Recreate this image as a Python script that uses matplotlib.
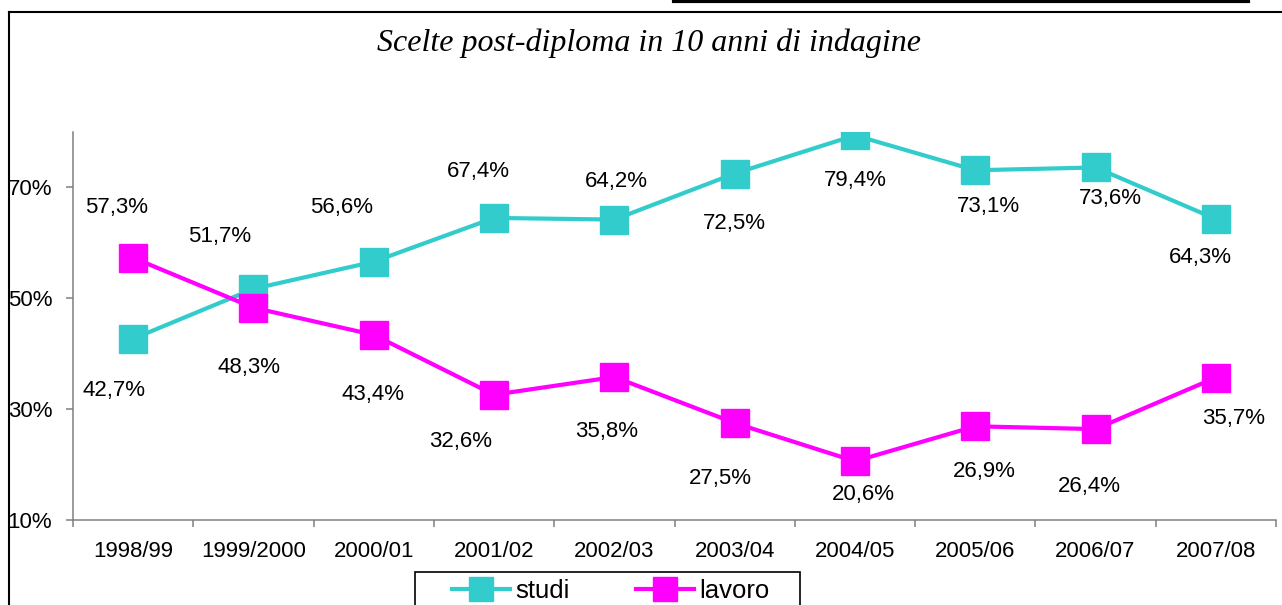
import matplotlib
matplotlib.use("Agg")
import matplotlib.pyplot as plt
from matplotlib.lines import Line2D
from matplotlib.patches import Rectangle

W, H = 1282, 605

anni = ["1998/99", "1999/2000", "2000/01", "2001/02", "2002/03",
        "2003/04", "2004/05", "2005/06", "2006/07", "2007/08"]
studi = [42.7, 51.7, 56.6, 64.5, 64.2, 72.5, 79.4, 73.1, 73.6, 64.3]
lavoro = [57.3, 48.3, 43.4, 32.6, 35.8, 27.5, 20.6, 26.9, 26.4, 35.7]
studi_lbl = ["42,7%", "51,7%", "56,6%", "67,4%", "64,2%",
             "72,5%", "79,4%", "73,1%", "73,6%", "64,3%"]
lavoro_lbl = ["57,3%", "48,3%", "43,4%", "32,6%", "35,8%",
              "27,5%", "20,6%", "26,9%", "26,4%", "35,7%"]
y_ticks = [10, 30, 50, 70]

# label offsets in pixels (dx, dy)
studi_off = [(-19, -52), (-34, 52), (-32, 54), (-16, 46), (2, 38),
             (0, -50), (0, -45), (13, -36), (15, -31), (-15, -38)]
lavoro_off = [(-17, 50), (-4, -60), (-1, -60), (-33, -47), (-8, -55),
              (-14, -55), (8, -33), (9, -45), (-6, -57), (18, -41)]

CYAN = "#33CCCC"
MAGENTA = "#FF00FF"
GRAY = "#808080"

plt.rcParams['font.family'] = ['Liberation Sans', 'DejaVu Sans']

fig = plt.figure(figsize=(W / 100, H / 100), dpi=100)
ax = fig.add_axes([73 / W, 1 - 520 / H, (1276 - 73) / W, (520 - 132) / H])

x = list(range(len(anni)))
ax.plot(x, studi, color=CYAN, lw=3, marker='s', ms=20, label="studi", zorder=3)
ax.plot(x, lavoro, color=MAGENTA, lw=3, marker='s', ms=20, label="lavoro", zorder=3)

for i in x:
    ax.annotate(studi_lbl[i], (i, studi[i]), xytext=studi_off[i],
                textcoords='offset pixels', ha='center', va='center', fontsize=16)
    ax.annotate(lavoro_lbl[i], (i, lavoro[i]), xytext=lavoro_off[i],
                textcoords='offset pixels', ha='center', va='center', fontsize=16)

ax.set_xlim(-0.5, len(anni) - 0.5)
ax.set_ylim(10, 80)
ax.set_xticks(x)
ax.set_xticklabels(anni, fontsize=16)
ax.set_xticks([i - 0.5 for i in range(len(anni) + 1)], minor=True)
ax.tick_params(axis='x', which='major', length=0, pad=15)
ax.tick_params(axis='x', which='minor', length=5, width=1.1, color=GRAY, direction='out')
ax.set_yticks(y_ticks)
ax.set_yticklabels([f"{v}%" for v in y_ticks], fontsize=16)
ax.tick_params(axis='y', length=5, width=1.1, color=GRAY, pad=10)

for s in ['top', 'right']:
    ax.spines[s].set_visible(False)
for s in ['left', 'bottom']:
    ax.spines[s].set_color(GRAY)
    ax.spines[s].set_linewidth(1.1)

fig.text(649 / W, 1 - 43 / H, "Scelte post-diploma in 10 anni di indagine",
         ha='center', va='center', fontsize=23, style='italic',
         family=['Liberation Serif', 'DejaVu Serif'])

# legend frame and legend
fig.add_artist(Rectangle((415 / W, -0.1), (800 - 415) / W, 0.1 + (605 - 572) / H,
                         transform=fig.transFigure, fill=False, ec='black', lw=1.2))
fig.legend(loc='center left', bbox_to_anchor=(452 / W, 1 - 591 / H), ncol=2,
           frameon=False, fontsize=18.5, borderpad=0, borderaxespad=0,
           handlelength=2.25, handletextpad=0.2, columnspacing=2.6, markerscale=0.85)

# outer border
fig.add_artist(Line2D([9 / W, 9 / W], [0, 1 - 12 / H], transform=fig.transFigure,
                      color='black', lw=1.5))
fig.add_artist(Line2D([9 / W, 1], [1 - 12 / H, 1 - 12 / H], transform=fig.transFigure,
                      color='black', lw=1.5))
fig.add_artist(Line2D([674 / W, 1248 / W], [1 - 1 / H, 1 - 1 / H], transform=fig.transFigure,
                      color='black', lw=3))

fig.savefig("out.png", dpi=100)
